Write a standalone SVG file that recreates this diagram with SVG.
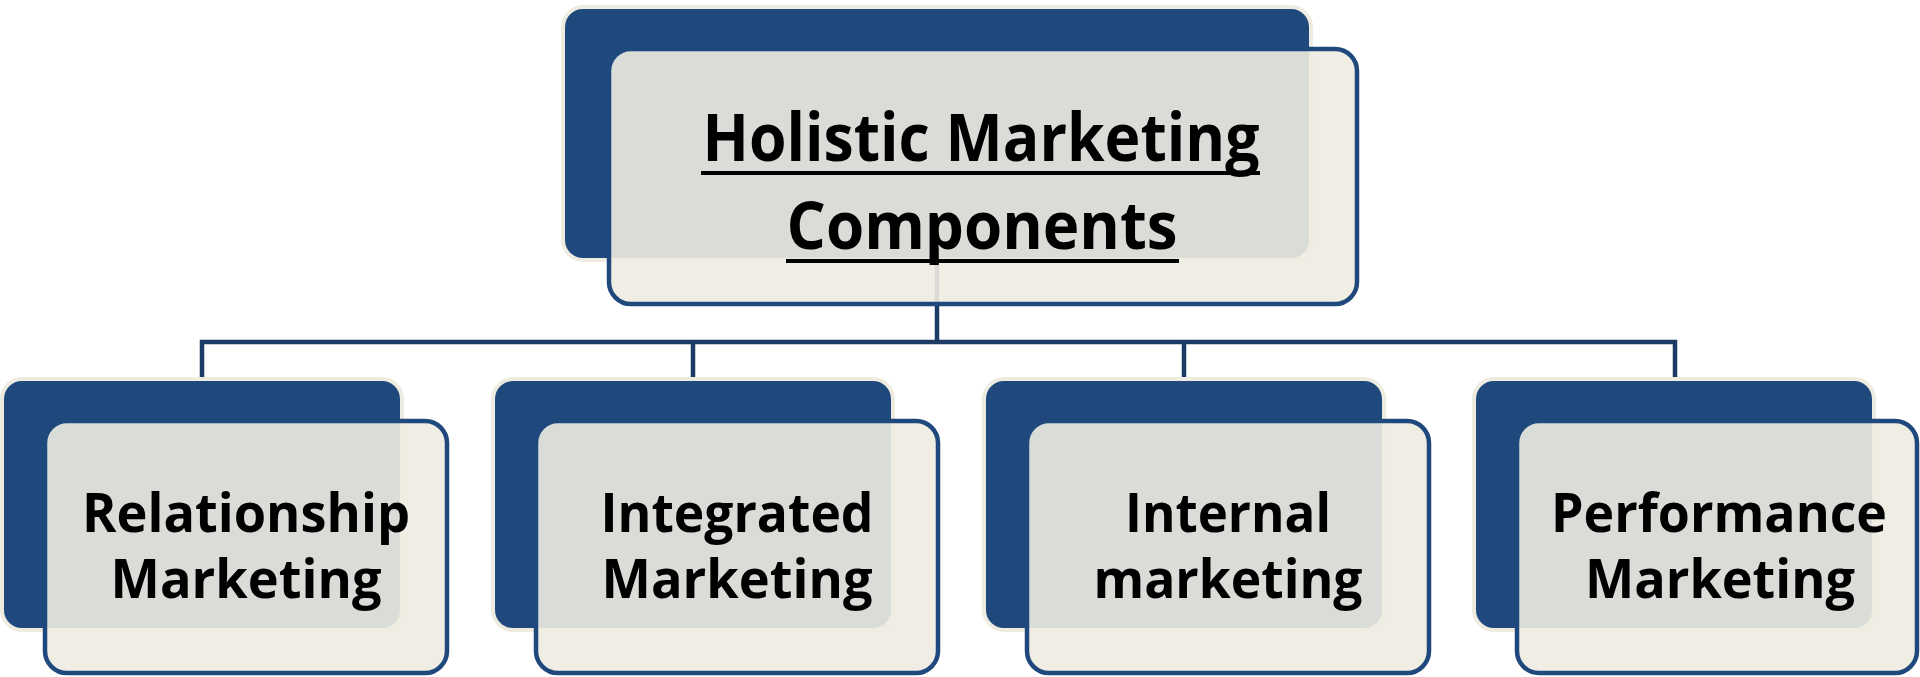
<svg xmlns="http://www.w3.org/2000/svg" width="1920" height="677" viewBox="0 0 1920 677">
  <style>
    .back { fill: #1f497d; stroke: #eeece1; stroke-width: 4; }
    .front { fill: #eeece1; fill-opacity: 0.9; stroke: #1f497d; stroke-width: 4.5; }
    .title { font-family: "Open Sans", "Noto Sans", "Liberation Sans", sans-serif; font-weight: 700; font-size: 67px; fill: #000; text-anchor: middle; }
    .label { font-family: "Open Sans", "Noto Sans", "Liberation Sans", sans-serif; font-weight: 700; font-size: 54px; fill: #000; text-anchor: middle; }
    .underline { stroke: #000; stroke-width: 4; }
    .wire { fill: none; stroke: #1b3b64; stroke-width: 4.5; stroke-linejoin: miter; }
  </style>

  <rect x="0" y="0" width="1920" height="677" fill="#ffffff"/>

  <!-- root node: back plate -->
  <g id="root-back">
    <rect class="back" x="563" y="7" width="748" height="253" rx="20"/>
  </g>

  <!-- tree connectors -->
  <g id="connectors">
    <path class="wire" d="M937 258 V342"/>
    <path class="wire" d="M202 379 V342 H1675 V379"/>
    <path class="wire" d="M693 342 V379"/>
    <path class="wire" d="M1184 342 V379"/>
  </g>

  <!-- root node -->
  <g id="root">
    <rect class="front" x="609" y="49" width="748" height="255" rx="22"/>
    <text class="title" x="981" y="161" textLength="557" lengthAdjust="spacingAndGlyphs">Holistic Marketing</text>
    <line class="underline" x1="701" y1="173" x2="1260" y2="173"/>
    <text class="title" x="982" y="249" textLength="391" lengthAdjust="spacingAndGlyphs">Components</text>
    <line class="underline" x1="786" y1="261" x2="1179" y2="261"/>
  </g>

  <!-- component nodes -->
  <g id="relationship">
    <rect class="back" x="2" y="379" width="400" height="251" rx="20"/>
    <rect class="front" x="45" y="421" width="402" height="252" rx="22"/>
    <text class="label" x="246" y="532" textLength="328" lengthAdjust="spacingAndGlyphs">Relationship</text>
    <text class="label" x="246" y="598" textLength="271" lengthAdjust="spacingAndGlyphs">Marketing</text>
  </g>

  <g id="integrated">
    <rect class="back" x="493" y="379" width="400" height="251" rx="20"/>
    <rect class="front" x="536" y="421" width="402" height="252" rx="22"/>
    <text class="label" x="737" y="532" textLength="273" lengthAdjust="spacingAndGlyphs">Integrated</text>
    <text class="label" x="737" y="598" textLength="271" lengthAdjust="spacingAndGlyphs">Marketing</text>
  </g>

  <g id="internal">
    <rect class="back" x="984" y="379" width="400" height="251" rx="20"/>
    <rect class="front" x="1027" y="421" width="402" height="252" rx="22"/>
    <text class="label" x="1228" y="532" textLength="206" lengthAdjust="spacingAndGlyphs">Internal</text>
    <text class="label" x="1228" y="598" textLength="269" lengthAdjust="spacingAndGlyphs">marketing</text>
  </g>

  <g id="performance">
    <rect class="back" x="1474" y="379" width="400" height="251" rx="20"/>
    <rect class="front" x="1517" y="421" width="400" height="252" rx="22"/>
    <text class="label" x="1719" y="532" textLength="336" lengthAdjust="spacingAndGlyphs">Performance</text>
    <text class="label" x="1720" y="598" textLength="270" lengthAdjust="spacingAndGlyphs">Marketing</text>
  </g>
</svg>
